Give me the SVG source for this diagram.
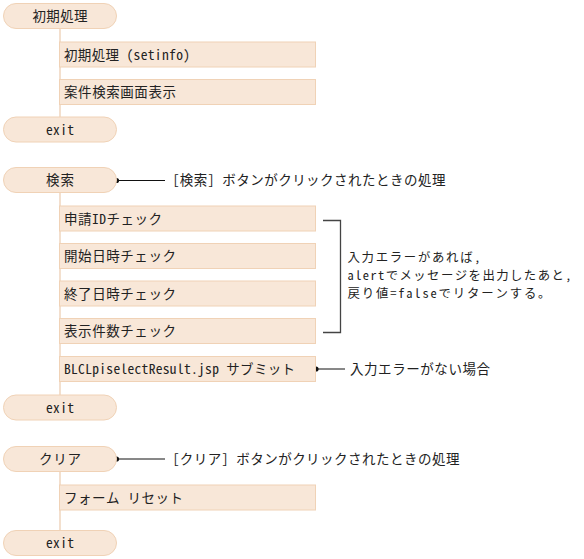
<svg xmlns="http://www.w3.org/2000/svg" width="584" height="559" viewBox="0 0 584 559">
<style>
text{font-family:"Noto Sans Mono CJK JP","Noto Sans CJK JP",sans-serif;font-size:13.5px;fill:#222}
.note{font-size:12.4px}
.pill,.box{fill:#f8e7d8;stroke:#f0d2b6;stroke-width:1}
.flow{stroke:#f0d8c2;stroke-width:1.6;fill:none}
.ann{stroke:#111;stroke-width:1;fill:none}
.brk{stroke:#444;stroke-width:1.3;fill:none}
.c{text-anchor:middle}
</style>
<rect width="584" height="559" fill="#fff"/>
<g id="connectors">
<line class="flow" x1="60" y1="28.5" x2="60" y2="117"/>
<line class="flow" x1="60" y1="192.5" x2="60" y2="395"/>
<line class="flow" x1="60" y1="471.5" x2="60" y2="530.5"/>
<line class="ann" x1="116.5" y1="180.5" x2="165" y2="180.5"/>
<circle cx="116.5" cy="180.5" r="2.6" fill="#111"/>
<line class="ann" x1="316" y1="369" x2="345" y2="369"/>
<circle cx="316" cy="369" r="2.6" fill="#111"/>
<line class="ann" x1="116.5" y1="459" x2="165" y2="459"/>
<circle cx="116.5" cy="459" r="2.6" fill="#111"/>
<path class="brk" d="M323,220.5 H340.5 V332.5 H323"/>
</g>
<g id="init">
<rect class="pill" x="3.5" y="3.5" width="113" height="25" rx="12.5"/>
<text class="c" x="60" y="21" textLength="55">初期処理</text>
</g>
<g id="setinfo">
<rect class="box" x="59.5" y="42" width="256" height="25"/>
<text x="64" y="59.5" textLength="126">初期処理 (setinfo)</text>
</g>
<g id="show">
<rect class="box" x="59.5" y="79.5" width="256" height="25"/>
<text x="64" y="97" textLength="112">案件検索画面表示</text>
</g>
<g id="exit1">
<rect class="pill" x="3.5" y="117" width="113" height="25" rx="12.5"/>
<text class="c" x="60" y="134.5" textLength="28">exit</text>
</g>
<g id="search">
<rect class="pill" x="3.5" y="167.5" width="113" height="25" rx="12.5"/>
<text class="c" x="60" y="185" textLength="28">検索</text>
</g>
<g id="search-note">
<text x="172.5" y="185" textLength="273">[検索] ボタンがクリックされたときの処理</text>
</g>
<g id="chk-id">
<rect class="box" x="59.5" y="206" width="256" height="25"/>
<text x="64" y="223.5" textLength="98">申請IDチェック</text>
</g>
<g id="chk-start">
<rect class="box" x="59.5" y="243.5" width="256" height="25"/>
<text x="64" y="261" textLength="112">開始日時チェック</text>
</g>
<g id="chk-end">
<rect class="box" x="59.5" y="281" width="256" height="25"/>
<text x="64" y="298.5" textLength="112">終了日時チェック</text>
</g>
<g id="chk-count">
<rect class="box" x="59.5" y="318.5" width="256" height="25"/>
<text x="64" y="336" textLength="112">表示件数チェック</text>
</g>
<g id="error-note">
<text class="note" x="347.5" y="261.5" textLength="133">入力エラーがあれば,</text>
<text class="note" x="347.5" y="279.5" textLength="224">alertでメッセージを出力したあと,</text>
<text class="note" x="347.5" y="297.5" textLength="203">戻り値=falseでリターンする。</text>
</g>
<g id="submit">
<rect class="box" x="59.5" y="356.5" width="256" height="25"/>
<text x="64" y="374" textLength="231">BLCLpiselectResult.jsp サブミット</text>
</g>
<g id="submit-note">
<text x="350" y="374" textLength="140">入力エラーがない場合</text>
</g>
<g id="exit2">
<rect class="pill" x="3.5" y="395" width="113" height="25" rx="12.5"/>
<text class="c" x="60" y="412.5" textLength="28">exit</text>
</g>
<g id="clear">
<rect class="pill" x="3.5" y="446.5" width="113" height="25" rx="12.5"/>
<text class="c" x="60" y="464" textLength="42">クリア</text>
</g>
<g id="clear-note">
<text x="172.5" y="464" textLength="287">[クリア] ボタンがクリックされたときの処理</text>
</g>
<g id="reset">
<rect class="box" x="59.5" y="485" width="256" height="25"/>
<text x="64" y="502.5" textLength="119">フォーム リセット</text>
</g>
<g id="exit3">
<rect class="pill" x="3.5" y="530.5" width="113" height="25" rx="12.5"/>
<text class="c" x="60" y="548" textLength="28">exit</text>
</g>
</svg>
